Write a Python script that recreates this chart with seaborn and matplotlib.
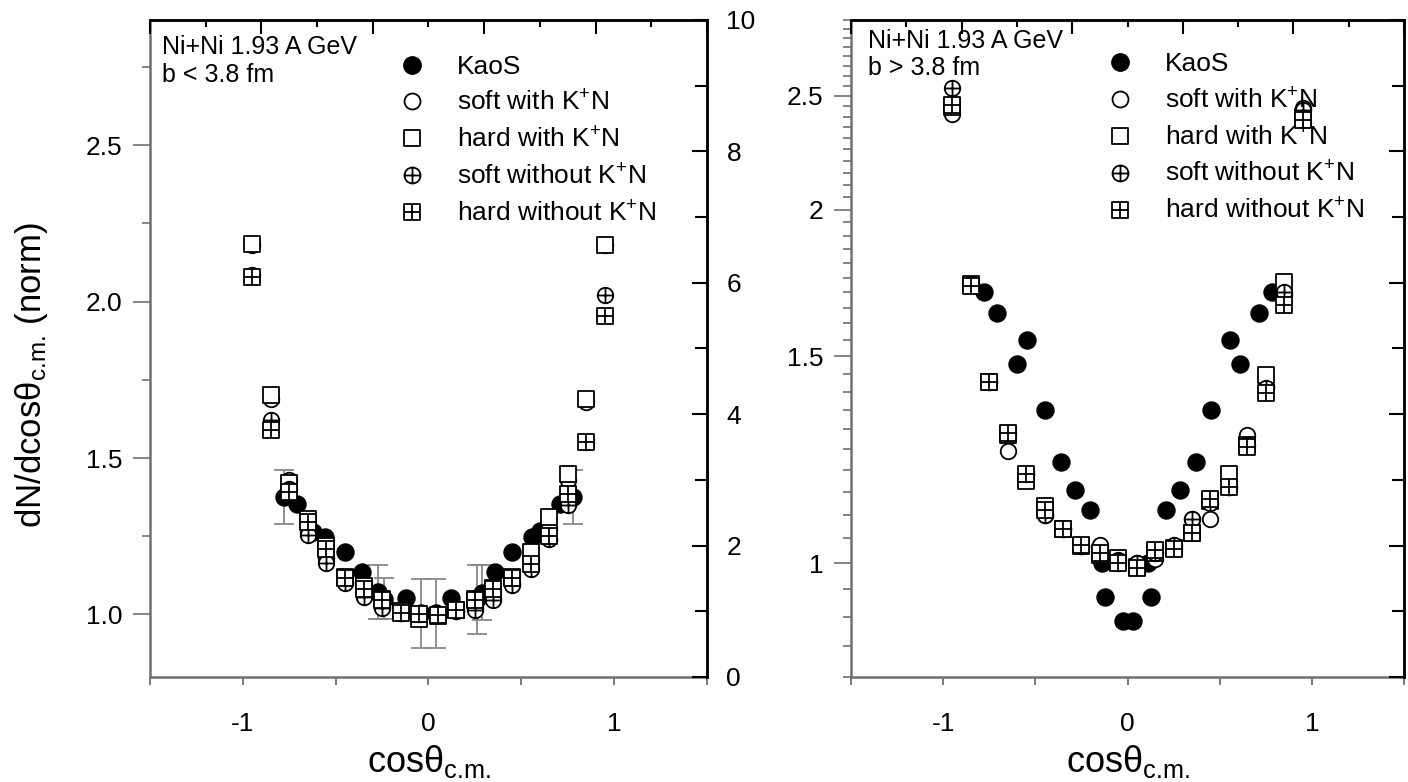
import numpy as np
import pandas as pd
import matplotlib
matplotlib.use("Agg")
import matplotlib.pyplot as plt
import seaborn as sns
from matplotlib.path import Path
from matplotlib.lines import Line2D
from matplotlib.ticker import MultipleLocator, FixedLocator, FixedFormatter, NullFormatter

# --- DATA ---
cos_model = [-0.95, -0.85, -0.75, -0.65, -0.55, -0.45, -0.35, -0.25, -0.15, -0.05,
             0.05, 0.15, 0.25, 0.35, 0.45, 0.55, 0.65, 0.75, 0.85, 0.95]

# central, b < 3.8 fm
c_soft_with = [2.18, 1.69, 1.43, 1.265, 1.18, 1.105, 1.06, 1.025, 1.005, 0.995,
               1.0, 1.01, 1.02, 1.05, 1.10, 1.175, 1.275, 1.43, 1.68, 2.18]
c_hard_with = [2.185, 1.70, 1.42, 1.305, 1.22, 1.12, 1.09, 1.05, 1.01, 0.985,
               0.995, 1.015, 1.05, 1.085, 1.12, 1.20, 1.31, 1.45, 1.69, 2.18]
c_soft_without = [2.085, 1.62, 1.40, 1.255, 1.165, 1.10, 1.055, 1.02, 1.005, 1.0,
                  1.0, 1.01, 1.015, 1.045, 1.095, 1.145, 1.24, 1.35, 1.55, 2.02]
c_hard_without = [2.08, 1.59, 1.39, 1.295, 1.21, 1.115, 1.08, 1.045, 1.005, 1.0,
                  0.998, 1.014, 1.045, 1.08, 1.115, 1.16, 1.25, 1.385, 1.55, 1.955]

c_kaos_cos = [-0.78, -0.71, -0.62, -0.56, -0.45, -0.36, -0.27, -0.24, -0.12, -0.04,
              0.04, 0.12, 0.26, 0.29, 0.36, 0.45, 0.56, 0.60, 0.71, 0.78]
c_kaos = [1.375, 1.354, 1.265, 1.247, 1.20, 1.136, 1.072, 1.05, 1.053, 1.003,
          1.003, 1.053, 1.048, 1.07, 1.136, 1.20, 1.247, 1.268, 1.354, 1.375]
c_kaos_err = [0.086, 0, 0, 0, 0, 0, 0.087, 0.065, 0, 0.11,
              0.11, 0, 0.109, 0.087, 0, 0, 0, 0, 0, 0.086]

# peripheral, b > 3.8 fm
p_soft_with = [2.41, 1.73, 1.425, 1.245, 1.19, 1.10, 1.07, 1.035, 1.036, 1.0,
               1.0, 1.009, 1.03, 1.09, 1.09, 1.16, 1.285, 1.415, 1.69, 2.44]
p_hard_with = [2.445, 1.73, 1.425, 1.285, 1.175, 1.118, 1.07, 1.035, 1.016, 1.01,
               0.993, 1.02, 1.03, 1.06, 1.13, 1.19, 1.26, 1.445, 1.736, 2.40]
p_soft_without = [2.54, 1.73, 1.425, 1.29, 1.19, 1.10, 1.07, 1.035, 1.016, 1.006,
                  1.0, 1.02, 1.036, 1.09, 1.125, 1.16, 1.26, 1.41, 1.70, 2.43]
p_hard_without = [2.455, 1.72, 1.425, 1.29, 1.19, 1.11, 1.07, 1.036, 1.02, 1.0,
                  0.99, 1.026, 1.028, 1.06, 1.135, 1.16, 1.255, 1.395, 1.66, 2.385]

p_kaos_cos = [-0.78, -0.71, -0.60, -0.545, -0.445, -0.36, -0.285, -0.205, -0.14, -0.12, -0.025,
              0.03, 0.11, 0.125, 0.21, 0.285, 0.37, 0.455, 0.555, 0.61, 0.715, 0.785]
p_kaos = [1.70, 1.633, 1.478, 1.548, 1.349, 1.219, 1.154, 1.110, 1.0, 0.935, 0.893,
          0.893, 1.0, 0.935, 1.110, 1.154, 1.219, 1.349, 1.548, 1.478, 1.633, 1.70]

labels = ['KaoS', 'soft with K$^{+}$N', 'hard with K$^{+}$N',
          'soft without K$^{+}$N', 'hard without K$^{+}$N']

# --- STYLE ---
sns.set_theme(style="ticks")
plt.rcParams['font.family'] = ['Liberation Sans', 'DejaVu Sans']
plt.rcParams['mathtext.fontset'] = 'custom'
plt.rcParams['mathtext.rm'] = 'Liberation Sans'
plt.rcParams['mathtext.it'] = 'Liberation Sans:italic'
plt.rcParams['mathtext.bf'] = 'Liberation Sans:bold'
plt.rcParams['text.color'] = 'black'
plt.rcParams['axes.labelcolor'] = 'black'

# marker shapes: circle, square, circle+cross, square+cross
cross = Path([(-1, 0), (1, 0), (0, -1), (0, 1)],
             [Path.MOVETO, Path.LINETO, Path.MOVETO, Path.LINETO])
circ = Path.unit_circle()
sq = Path([(-1, -1), (1, -1), (1, 1), (-1, 1), (-1, -1)],
          [Path.MOVETO, Path.LINETO, Path.LINETO, Path.LINETO, Path.CLOSEPOLY])
oplus = Path.make_compound_path(circ, cross)
boxplus = Path.make_compound_path(sq, cross)
model_markers = [circ, sq, oplus, boxplus]

S_FILL = 150
S_OPEN = 125
FS_TICK = 19
FS_LEG = 19
GRAY = '#707070'
CM = '$_{\\text{c.m.}}$'

fig = plt.figure(figsize=(14.08, 7.82), dpi=100)
ax1 = fig.add_axes([150 / 1408, 105 / 782, 557 / 1408, 657 / 782])
ax2 = fig.add_axes([851 / 1408, 105 / 782, 553 / 1408, 657 / 782])


def draw_panel(ax, kcos, kval, models, kerr=None):
    if kerr is not None:
        kc = np.array(kcos); kv = np.array(kval); ke = np.array(kerr)
        m = ke > 0
        ax.errorbar(kc[m], kv[m], yerr=ke[m], fmt='none', ecolor='#888888',
                    elinewidth=1.3, capsize=7, capthick=1.3, zorder=1)
    sns.scatterplot(x=kcos, y=kval, marker=circ, s=S_FILL, color='black',
                    edgecolor='black', linewidth=1, ax=ax, zorder=2)
    for vals, mk in zip(models, model_markers):
        sns.scatterplot(x=cos_model, y=vals, marker=mk, s=S_OPEN, color='white',
                        edgecolor='black', linewidth=1.3, ax=ax, zorder=3)


draw_panel(ax1, c_kaos_cos, c_kaos,
           [c_soft_with, c_hard_with, c_soft_without, c_hard_without], c_kaos_err)
draw_panel(ax2, p_kaos_cos, p_kaos,
           [p_soft_with, p_hard_with, p_soft_without, p_hard_without])

for ax in (ax1, ax2):
    ax.set_xlim(-1.5, 1.5)
    ax.xaxis.set_major_locator(FixedLocator([-1, 0, 1]))
    ax.xaxis.set_major_formatter(FixedFormatter(['-1', '0', '1']))
    ax.xaxis.set_minor_locator(FixedLocator([-1.5, -0.5, 0.5, 1.5]))
    ax.tick_params(axis='x', which='both', direction='out', length=6, width=1.3,
                   color=GRAY, labelcolor='black', labelsize=FS_TICK, pad=19)
    ax.tick_params(axis='y', which='major', direction='out', length=12, width=1.2,
                   color=GRAY, labelcolor='black', labelsize=FS_TICK, pad=8)
    ax.tick_params(axis='y', which='minor', direction='out', length=6, width=1.2, color=GRAY)
    ax.tick_params(top=False, right=False, which='both')
    for s in ('left', 'bottom'):
        ax.spines[s].set_color(GRAY)
        ax.spines[s].set_linewidth(1.8)
    for s in ('top', 'right'):
        ax.spines[s].set_visible(False)
    ax.set_xlabel('cosθ' + CM, fontsize=26)
    ax.xaxis.set_label_coords(0.5, -0.1)
    ax.set_ylabel('')

    # the 0..10 frame axes on top and right
    tx = ax.twiny()
    tx.set_xlim(0, 10)
    tx.xaxis.set_major_locator(MultipleLocator(2))
    tx.xaxis.set_minor_locator(MultipleLocator(1))
    tx.tick_params(axis='x', which='major', direction='in', length=10, width=1.5,
                   color='black', labeltop=False)
    tx.tick_params(axis='x', which='minor', direction='in', length=5, width=1.5, color='black')
    ty = ax.twinx()
    ty.set_ylim(0, 10)
    ty.yaxis.set_major_locator(MultipleLocator(2))
    ty.yaxis.set_minor_locator(MultipleLocator(1))
    ty.tick_params(axis='y', which='major', direction='in', length=11, width=1.5,
                   color='black', labelcolor='black', labelsize=FS_TICK, pad=14)
    ty.tick_params(axis='y', which='minor', direction='in', length=9, width=1.5, color='black')
    for t in (tx, ty):
        for s in ('left', 'bottom'):
            t.spines[s].set_visible(False)
        t.spines['top'].set_color('black')
        t.spines['right'].set_color('black')
        t.spines['top'].set_linewidth(1.8)
        t.spines['right'].set_linewidth(1.8)
    if ax is ax2:
        ty.tick_params(labelright=False)

# left panel: linear y
ax1.set_ylim(0.8, 2.9)
ax1.yaxis.set_major_locator(FixedLocator([1.0, 1.5, 2.0, 2.5]))
ax1.yaxis.set_major_formatter(FixedFormatter(['1.0', '1.5', '2.0', '2.5']))
ax1.yaxis.set_minor_locator(FixedLocator([1.25, 1.75, 2.25, 2.75]))
ax1.set_ylabel('dN/dcosθ' + CM + ' (norm)', fontsize=25)
ax1.yaxis.set_label_coords(-0.18, 0.46)

# right panel: log y
ax2.set_yscale('log')
ax2.set_ylim(0.8, 2.9)
ax2.yaxis.set_major_locator(FixedLocator([1, 1.5, 2, 2.5]))
ax2.yaxis.set_major_formatter(FixedFormatter(['1', '1.5', '2', '2.5']))
minors = [v for v in np.round(np.arange(0.8, 2.901, 0.05), 2) if v not in (1.0, 1.5, 2.0, 2.5)]
ax2.yaxis.set_minor_locator(FixedLocator(minors))
ax2.yaxis.set_minor_formatter(NullFormatter())

# legends and labels
def make_handles():
    hs = [Line2D([], [], linestyle='none', marker=circ, markersize=12.5,
                 markerfacecolor='black', markeredgecolor='black')]
    for mk in model_markers:
        hs.append(Line2D([], [], linestyle='none', marker=mk, markersize=11.5,
                         markerfacecolor='white', markeredgecolor='black', markeredgewidth=1.3))
    return hs


for ax, x0, y0 in ((ax1, 0.447, 0.947), (ax2, 0.462, 0.951)):
    leg = ax.legend(make_handles(), labels, loc='upper left', bbox_to_anchor=(x0, y0),
                    frameon=False, fontsize=FS_LEG, handlelength=1.0, handletextpad=1.2,
                    labelspacing=0.44, borderpad=0, borderaxespad=0)
    leg.set_zorder(10)

ax1.text(0.022, 0.959, 'Ni+Ni 1.93 A GeV', transform=ax1.transAxes, fontsize=18, va='center')
ax1.text(0.022, 0.916, 'b < 3.8 fm', transform=ax1.transAxes, fontsize=18, va='center')
ax2.text(0.031, 0.968, 'Ni+Ni 1.93 A GeV', transform=ax2.transAxes, fontsize=18, va='center')
ax2.text(0.031, 0.927, 'b > 3.8 fm', transform=ax2.transAxes, fontsize=18, va='center')

fig.savefig('out.png', dpi=100)
